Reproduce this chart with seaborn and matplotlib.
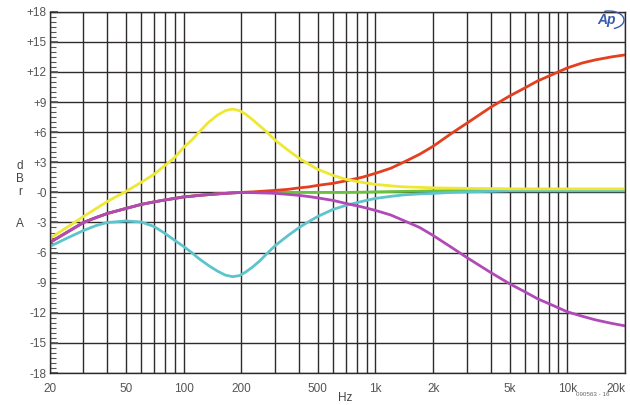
import numpy as np
import pandas as pd
import matplotlib
matplotlib.use("Agg")
import matplotlib.pyplot as plt
import seaborn as sns
from matplotlib.ticker import FixedLocator, NullFormatter, MultipleLocator
from matplotlib.patches import Arc

# ---- data ----
freq = [20, 25, 30, 35, 40, 50, 60, 70, 80, 90, 100, 110, 120, 135, 150, 165, 180, 195,
        210, 230, 250, 275, 300, 350, 400, 450, 500, 600, 700, 850, 1000, 1200, 1400,
        1700, 2000, 2500, 3000, 4000, 5000, 6000, 7000, 8500, 10000, 12000, 14000,
        17000, 20000]

flat_green = [-5.0, -3.9, -3.0, -2.5, -2.1, -1.6, -1.2, -0.95, -0.75, -0.6, -0.45, -0.38, -0.3,
              -0.22, -0.15, -0.1, -0.05, -0.02,
              0.0, 0.0, 0.0, 0.0, 0.0, 0.0, 0.0, 0.0, 0.0, 0.0, 0.0, 0.02, 0.05, 0.08, 0.1,
              0.12, 0.15, 0.18, 0.2, 0.2, 0.2, 0.2, 0.2, 0.2, 0.2, 0.2, 0.2, 0.2, 0.2]
treble_boost = [-5.0, -3.9, -3.0, -2.5, -2.1, -1.6, -1.2, -0.95, -0.75, -0.6, -0.45, -0.38, -0.3,
                -0.22, -0.15, -0.1, -0.05, -0.02,
                0.02, 0.05, 0.1, 0.15, 0.2, 0.3, 0.45, 0.55, 0.7, 0.9, 1.15, 1.5, 1.9, 2.4, 3.0,
                3.8, 4.6, 5.9, 6.9, 8.5, 9.6, 10.4, 11.1, 11.8, 12.4, 12.9, 13.2, 13.5, 13.7]
bass_cut = [-5.4, -4.5, -3.8, -3.3, -3.0, -2.85, -2.95, -3.4, -4.1, -4.8, -5.4, -6.0, -6.6,
            -7.3, -7.85, -8.25, -8.4, -8.3,
            -7.95, -7.4, -6.8, -6.0, -5.3, -4.3, -3.5, -2.9, -2.4, -1.7, -1.3, -0.9, -0.6, -0.4,
            -0.25, -0.15, -0.1, 0.0, 0.05, 0.1, 0.15, 0.15, 0.15, 0.15, 0.15, 0.15, 0.15, 0.15, 0.15]
treble_cut = [-5.0, -3.9, -3.0, -2.5, -2.1, -1.6, -1.2, -0.95, -0.75, -0.6, -0.45, -0.38, -0.3,
              -0.22, -0.15, -0.1, -0.05, -0.02,
              -0.02, -0.03, -0.05, -0.07, -0.1, -0.2, -0.3, -0.42, -0.55, -0.8, -1.1, -1.45, -1.8,
              -2.25, -2.8, -3.5, -4.3, -5.5, -6.5, -8.0, -9.1, -9.9, -10.6, -11.3, -11.9, -12.35,
              -12.7, -13.05, -13.3]
bass_boost = [-4.6, -3.4, -2.4, -1.6, -0.9, 0.1, 1.0, 1.8, 2.7, 3.5, 4.5, 5.2, 6.0,
              7.0, 7.7, 8.15, 8.3, 8.15,
              7.8, 7.2, 6.6, 5.9, 5.2, 4.2, 3.4, 2.8, 2.3, 1.7, 1.3, 1.0, 0.8, 0.65, 0.55,
              0.5, 0.45, 0.42, 0.4, 0.38, 0.35, 0.35, 0.35, 0.35, 0.35, 0.35, 0.35, 0.35, 0.35]

series_names = ["flat", "treble boost", "bass cut", "treble cut", "bass boost"]
series_values = [flat_green, treble_boost, bass_cut, treble_cut, bass_boost]
colors = ["#6cc040", "#e2401e", "#5ec4cc", "#b04ab8", "#eee832"]

x_ticks = [20, 50, 100, 200, 500, 1000, 2000, 5000, 10000, 20000]
x_tick_labels = ["20", "50", "100", "200", "500", "1k", "2k", "5k", "10k", "20k"]
y_ticks = [18, 15, 12, 9, 6, 3, 0, -3, -6, -9, -12, -15, -18]
y_tick_labels = ["+18", "+15", "+12", "+9", "+6", "+3", "-0", "-3", "-6", "-9", "-12", "-15", "-18"]

df = pd.concat([pd.DataFrame({"Hz": freq, "dBr": v, "curve": n})
                for n, v in zip(series_names, series_values)], ignore_index=True)

sns.set_theme(style="white")
plt.rcParams["font.family"] = ["Liberation Sans", "DejaVu Sans"]

fig = plt.figure(figsize=(6.3, 4.05), dpi=100)
ax = fig.add_axes([0.0789, 0.079, 0.9131, 0.892])

sns.lineplot(data=df, x="Hz", y="dBr", hue="curve", hue_order=series_names,
             palette=colors, estimator=None, linewidth=2.0, legend=False, ax=ax)
for ln in ax.get_lines():
    ln.set_solid_joinstyle("round")
    ln.set_solid_capstyle("round")

ax.set_xscale("log")
ax.set_xlim(20, 20000)
ax.set_ylim(-18, 18)

# grid: every 1-9 per decade, every 3 dB
grid_x = [m * 10 ** d for d in range(1, 5) for m in range(1, 10) if 20 <= m * 10 ** d <= 20000]
for gx in grid_x:
    ax.axvline(gx, color="#2f2a2c", linewidth=1.0, zorder=0)
for gy in y_ticks:
    ax.axhline(gy, color="#2f2a2c", linewidth=1.0, zorder=0)

ax.xaxis.set_major_locator(FixedLocator(x_ticks))
ax.set_xticklabels(x_tick_labels)
ax.xaxis.set_minor_formatter(NullFormatter())
ax.xaxis.set_minor_locator(FixedLocator([]))
ax.yaxis.set_major_locator(FixedLocator(y_ticks))
ax.set_yticklabels(y_tick_labels)
ax.yaxis.set_minor_locator(MultipleLocator(0.5))
ax.tick_params(axis="both", which="major", labelsize=8.5, labelcolor="#555555", length=0, pad=2)
ax.tick_params(axis="x", which="major", pad=7)
ax.tick_params(axis="y", which="minor", direction="in", length=4, width=0.8,
               color="#555555", left=True)
ax.tick_params(axis="y", which="major", direction="in", length=6, left=True, color="#555555")
ax.get_xticklabels()[-1].set_horizontalalignment("right")

for s in ax.spines.values():
    s.set_color("#2f2a2c")
    s.set_linewidth(1.0)

ax.set_xlabel("")
ax.set_ylabel("")

# stacked axis label letters
for letter, ypx in zip(["d", "B", "r", "A"], [166, 179, 192, 224]):
    fig.text(20 / 630, 1 - ypx / 405, letter, fontsize=8.5, color="#444444",
             ha="center", va="center")

fig.text(345 / 630, 1 - 398 / 405, "Hz", fontsize=8.5, color="#444444", ha="center", va="center")
fig.text(593 / 630, 1 - 395 / 405, "090563 - 16", fontsize=4.5, color="#666666",
         ha="center", va="center")

# AP logo
fig.text(607 / 630, 1 - 20 / 405, "Ap", fontsize=10, color="#3a5cb0", style="italic",
         fontweight="bold", ha="center", va="center")
fig.add_artist(Arc((609 / 630, 1 - 20 / 405), 30 / 630, 18 / 405, angle=0,
                   theta1=-70, theta2=110, color="#3a5cb0", linewidth=1.0,
                   transform=fig.transFigure))

fig.savefig("out.png", dpi=100, facecolor="white")
